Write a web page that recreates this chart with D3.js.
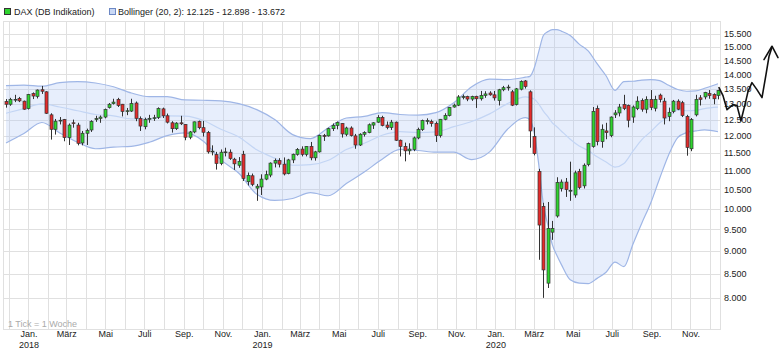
<!DOCTYPE html>
<html>
<head>
<meta charset="utf-8">
<script src="https://cdn.jsdelivr.net/npm/d3@7"></script>
<style>
  body { margin: 0; background: #fff; }
  text { font-family: "Liberation Sans", Arial, sans-serif; }
</style>
</head>
<body>
<svg width="783" height="352"></svg>
<script>
// weekly candles, first week starts Monday 27.11.2017
const firstWeek = '2017-11-27';
const opens = [
  13080,12990,13140,13180,13090,12850,13340,13250,13470,13400,
  12650,12200,12460,12500,11950,12400,12330,11790,12080,12180,
  12500,12540,12580,12880,13010,13150,12990,12760,12770,13030,
  12530,12280,12510,12550,12570,12840,12620,12400,12220,12400,
  12350,11960,12120,12440,12250,12100,11540,11450,11200,11520,
  11520,11320,11150,11460,10700,10860,10530,10560,10770,10880,
  11210,11280,11180,10920,11300,11460,11610,11460,11690,11360,
  11530,12010,12000,12220,12320,12380,12050,12240,12000,11730,
  12050,12100,12330,12420,12570,12330,12260,12420,11870,11690,
  11560,11600,11940,12190,12460,12440,12380,12010,12510,12630,
  12900,12960,13230,13240,13160,13250,13170,13280,13360,13300,
  13110,13470,13540,13400,12980,13490,13770,13400,11980,10980,
  10060,8300,9430,9820,10520,10690,10470,10350,10980,10590,
  11170,11690,12850,11830,12150,12010,12650,12710,12980,12950,
  12580,12850,13110,12830,13150,12860,13290,13090,12600,12760,
  13090,13040,12600,11620,12650,13200,13230,13340,13310,13280
];
const highs = [
  13160,13200,13300,13230,13110,13330,13380,13480,13600,13420,
  12700,12520,12580,12520,12380,12500,12400,12150,12220,12480,
  12620,12630,12850,13030,13170,13200,13000,12870,13170,13080,
  12600,12560,12650,12650,12890,12880,12690,12450,12420,12620,
  12360,12150,12440,12470,12460,12150,11720,11530,11600,11650,
  11600,11360,11380,11560,10950,10920,10640,10900,11000,11230,
  11340,11350,11370,11330,11480,11640,11690,11700,11820,11560,
  12040,12060,12250,12380,12440,12390,12280,12290,12060,12080,
  12140,12380,12420,12640,12620,12440,12490,12440,11890,11800,
  11780,11980,12250,12500,12540,12500,12440,12520,12700,12900,
  13010,13290,13310,13270,13270,13270,13430,13420,13420,13430,
  13500,13600,13640,13460,13530,13790,13800,13450,12260,11050,
  10150,10170,9700,10820,10760,10800,11250,11000,11050,11200,
  11800,12900,12950,12350,12400,12600,12800,13000,13300,12980,
  12950,13250,13180,13250,13460,13270,13340,13200,12880,13130,
  13150,13100,12650,12550,13300,13290,13400,13460,13350,13470
];
const lows = [
  12880,12940,13060,13060,12810,12820,13160,13180,13330,12680,
  11890,12040,12350,11840,11730,12250,11720,11720,11730,12120,
  12430,12400,12540,12850,12980,12900,12600,12640,12740,12450,
  12150,12200,12400,12460,12520,12550,12380,12100,12180,12330,
  11870,11900,12080,12200,11980,11480,11430,11030,11150,11400,
  11300,11020,11080,10720,10600,10580,10200,10350,10740,10820,
  11090,11090,10870,10900,11210,11420,11400,11400,11290,11280,
  11510,11850,11980,12150,12200,11950,11990,11980,11620,11700,
  11980,12080,12210,12400,12290,12200,12180,11850,11400,11260,
  11450,11550,11900,12150,12350,12280,11820,11950,12480,12600,
  12880,12930,13150,13090,13100,12870,13110,13200,13270,13110,
  12950,13420,13440,12930,12950,13450,13510,11650,11430,8800,
  8000,8200,9250,9780,10440,10300,10200,10280,10500,10520,
  11120,11650,11720,11650,11900,11960,12550,12600,12800,12260,
  12400,12800,12750,12700,12800,12760,13050,12350,12450,12700,
  12800,12580,11420,11550,12600,12950,13150,13170,12990,13150
];
const closes = [
  12990,13150,13150,13100,12830,13310,13260,13460,13420,12700,
  12200,12450,12480,11950,12330,12380,11780,12080,12160,12440,
  12530,12580,12820,12990,13060,12950,12760,12780,13010,12540,
  12300,12500,12540,12560,12850,12620,12420,12220,12390,12370,
  11960,12120,12430,12250,12110,11530,11550,11200,11520,11530,
  11340,11190,11260,10790,10870,10630,10580,10770,10890,11210,
  11280,11180,10910,11300,11460,11600,11460,11690,11360,11530,
  12010,12000,12220,12320,12410,12060,12240,12010,11730,12050,
  12100,12340,12400,12570,12320,12260,12420,11870,11690,11560,
  11610,11940,12190,12470,12470,12380,12010,12510,12630,12890,
  12960,13230,13240,13160,13240,13170,13280,13330,13300,13200,
  13470,13540,13560,12960,13500,13750,13580,12150,11480,9600,
  8580,9520,9520,10680,10690,10490,10470,10940,10550,11150,
  11770,12760,11830,12200,12100,12580,12710,12900,12850,12480,
  12900,13090,12830,13150,12890,13150,13150,12550,12730,13090,
  12830,12630,11660,12500,13150,13150,13380,13280,13170,13450
];

// Bollinger (20, 2) at these week numbers
const bandWeek = [0,4,8,12,16,20,24,28,32,36,40,44,48,52,56,60,64,68,72,76,
  80,84,88,92,96,100,104,108,112,116,117,118,119,120,121,122,123,124,
  126,128,130,132,134,136,138,140,142,144,146,148,150,152,154,156,159];
const bandUpper = [13610,13630,13590,13710,13750,13700,13570,13360,13240,13240,
  13130,13120,13100,13010,12815,12500,12040,11920,12250,12550,
  12600,12720,12660,12640,12720,13040,13570,13830,13816,13900,
  13930,14240,14840,15430,15580,15660,15660,15600,
  15430,15100,14850,14380,13950,13450,13750,13760,13800,13816,
  13780,13620,13480,13420,13430,13520,13672];
const bandMiddle = [12700,12850,13000,12900,12780,12660,12620,12520,12520,12620,
  12610,12480,12200,11970,11590,11350,11150,11165,11290,11600,
  11780,12020,12130,12100,12120,12280,12440,12680,13010,13230,
  13210,13150,12990,12770,12590,12400,12280,12150,
  11900,11700,11570,11390,11240,11100,11200,11550,11890,12130,
  12400,12590,12800,12780,12790,12850,12898];
const bandLower = [11790,12070,12410,12090,11810,11620,11670,11690,11810,12010,
  12090,11850,11300,10930,10370,10210,10260,10410,10330,10650,
  10960,11320,11600,11570,11520,11520,11310,11530,12200,12560,
  12490,12060,11140,10110,9600,9140,8900,8700,
  8370,8300,8290,8400,8530,8750,8650,9150,9650,10150,
  10800,11450,11950,12100,12150,12180,12125];

const yTicks = [8000,8500,9000,9500,10000,10500,11000,11500,12000,12500,13000,13500,14000,14500,15000,15500];
const monthNames = ['Jan.','Feb.','März','Apr.','Mai','Juni','Juli','Aug.','Sep.','Okt.','Nov.','Dez.'];
const legendText = ['DAX (DB Indikation)', 'Bollinger (20, 2): 12.125 - 12.898 - 13.672'];

// hand drawn arrow: days after the last week, index level
const arrowDays = [1.6,7.8,14.1,23.4,29.7,35.9,42.2,46.9,53.1,60.9,68.8,75,79.7,84.4];
const arrowValues = [13540,13273,12815,12977,12945,12465,12977,13407,13712,13474,13207,13990,14635,14980];
const arrowHeadDays = [71.9,84.4,93.8];
const arrowHeadValues = [14526,15020,14600];

const svg = d3.select('svg');
const plotLeft = 3, plotRight = 720, plotTop = 21, plotBottom = 329;

const start = d3.timeParse('%Y-%m-%d')(firstWeek);
const weekDate = i => d3.timeDay.offset(start, i * 7);
const last = weekDate(closes.length - 1);

const xScale = d3.scaleTime()
    .domain([d3.timeHour.offset(start, -113), d3.timeHour.offset(last, 75)])
    .range([plotLeft, plotRight]);
const yScale = d3.scaleLog()
    .domain([7400, 16000])
    .range([plotBottom, plotTop]);

const de = d3.formatLocale({decimal: ',', thousands: '.', grouping: [3], currency: ['', ' €']});
const fmt = de.format(',');

// grid
const grid = svg.append('g').attr('id', 'grid');
grid.selectAll('line.h')
    .data(yTicks.concat([16000]))
    .enter()
    .append('line')
    .attr('class', 'h')
    .attr('x1', plotLeft)
    .attr('x2', plotRight)
    .attr('y1', d => Math.round(yScale(d)) + 0.5)
    .attr('y2', d => Math.round(yScale(d)) + 0.5)
    .style('stroke', '#e0e0e0');
const months = d3.timeMonth.range(d3.timeMonth.ceil(xScale.domain()[0]), xScale.domain()[1]);
grid.selectAll('line.v')
    .data(months)
    .enter()
    .append('line')
    .attr('class', 'v')
    .attr('x1', d => Math.round(xScale(d)) + 0.5)
    .attr('x2', d => Math.round(xScale(d)) + 0.5)
    .attr('y1', plotTop)
    .attr('y2', plotBottom)
    .style('stroke', '#e0e0e0');
grid.append('rect')
    .attr('x', plotLeft + 0.5)
    .attr('y', plotTop + 0.5)
    .attr('width', plotRight - plotLeft)
    .attr('height', plotBottom - plotTop)
    .style('fill', 'none')
    .style('stroke', '#e0e0e0');

// bollinger band
const band = bandWeek.map((w, k) => ({date: weekDate(w), up: bandUpper[k], mid: bandMiddle[k], low: bandLower[k]}));
svg.append('path')
    .datum(band)
    .attr('d', d3.area()
        .x(d => xScale(d.date))
        .y0(d => yScale(d.low))
        .y1(d => yScale(d.up))
        .curve(d3.curveMonotoneX))
    .style('fill', 'rgba(175, 200, 245, 0.3)');
[['up', '#9fb6e6'], ['low', '#9fb6e6'], ['mid', '#c3d5f4']].forEach(([key, color]) => {
  svg.append('path')
      .datum(band)
      .attr('d', d3.line()
          .x(d => xScale(d.date))
          .y(d => yScale(d[key]))
          .curve(d3.curveMonotoneX))
      .style('fill', 'none')
      .style('stroke', color)
      .style('stroke-width', 1.2);
});

// candles
const candles = closes.map((c, i) => ({date: weekDate(i), o: opens[i], h: highs[i], l: lows[i], c: c}));
const cg = svg.selectAll('g.candle')
    .data(candles)
    .enter()
    .append('g')
    .attr('class', 'candle')
    .attr('transform', d => `translate(${Math.round(xScale(d.date))}, 0)`);
cg.append('line')
    .attr('x1', 0.5)
    .attr('x2', 0.5)
    .attr('y1', d => yScale(d.h))
    .attr('y2', d => yScale(d.l))
    .style('stroke', '#333');
cg.append('rect')
    .attr('x', -1)
    .attr('width', 3)
    .attr('y', d => yScale(Math.max(d.o, d.c)))
    .attr('height', d => Math.max(0.8, Math.abs(yScale(d.o) - yScale(d.c))))
    .style('fill', d => d.c >= d.o ? '#2fd42f' : '#e52b2b')
    .style('stroke', '#333')
    .style('stroke-width', 0.7);

// axes
const yAxis = d3.axisRight(yScale)
    .tickValues(yTicks)
    .tickFormat(fmt)
    .tickSize(0)
    .tickPadding(4);
svg.append('g')
    .attr('id', 'yAxisG')
    .attr('transform', `translate(${plotRight}, 0)`)
    .call(yAxis)
    .call(g => g.select('.domain').remove())
    .selectAll('text')
    .style('font-size', '9px')
    .style('fill', '#222');

const labelMonths = months.filter(d => d.getMonth() % 2 === 0);
const xAxis = d3.axisBottom(xScale)
    .tickValues(labelMonths)
    .tickFormat(d => monthNames[d.getMonth()])
    .tickSize(0)
    .tickPadding(2);
const xg = svg.append('g')
    .attr('id', 'xAxisG')
    .attr('transform', `translate(0, ${plotBottom})`)
    .call(xAxis)
    .call(g => g.select('.domain').remove());
xg.selectAll('text')
    .style('font-size', '9px')
    .style('fill', '#222')
    .each(function(d) {
      if (d.getMonth() === 0) {
        d3.select(this).append('tspan')
            .attr('x', 0)
            .attr('dy', '1.15em')
            .text(d.getFullYear());
      }
    });

// legend
svg.append('rect')
    .attr('x', 4.5).attr('y', 8.5).attr('width', 6).attr('height', 6)
    .style('fill', '#2fd42f').style('stroke', '#333');
svg.append('text')
    .attr('x', 14).attr('y', 15)
    .style('font-size', '9px').style('fill', '#222')
    .text(legendText[0]);
svg.append('rect')
    .attr('x', 109.5).attr('y', 8.5).attr('width', 6).attr('height', 6)
    .style('fill', '#c9d8f5').style('stroke', '#6d88c4');
svg.append('text')
    .attr('x', 118).attr('y', 15)
    .style('font-size', '9px').style('fill', '#222')
    .text(legendText[1]);

svg.append('text')
    .attr('x', 8).attr('y', 327)
    .style('font-size', '9px').style('fill', '#aaa')
    .text('1 Tick = 1 Woche');

// arrow
const arrowLine = d3.line()
    .x(d => xScale(d3.timeHour.offset(last, d[0] * 24)))
    .y(d => yScale(d[1]));
svg.append('path')
    .attr('d', arrowLine(arrowDays.map((d, k) => [d, arrowValues[k]])))
    .style('fill', 'none').style('stroke', '#111').style('stroke-width', 1.6)
    .style('stroke-linejoin', 'round').style('stroke-linecap', 'round');
svg.append('path')
    .attr('d', arrowLine(arrowHeadDays.map((d, k) => [d, arrowHeadValues[k]])))
    .style('fill', 'none').style('stroke', '#111').style('stroke-width', 1.6)
    .style('stroke-linejoin', 'round').style('stroke-linecap', 'round');
</script>
</body>
</html>
